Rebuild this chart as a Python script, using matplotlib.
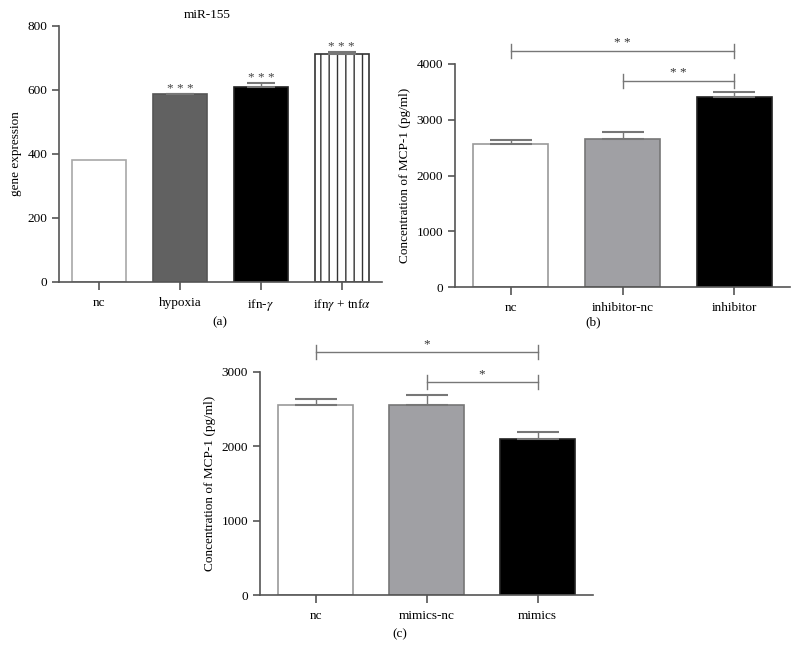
import matplotlib
matplotlib.use('Agg')
import matplotlib.pyplot as plt

plt.rcParams['font.family'] = ['Liberation Serif', 'DejaVu Serif']
plt.rcParams['mathtext.fontset'] = 'stix'
plt.rcParams['hatch.linewidth'] = 1.0

# panel (a): miR-155
cats_a = ['nc', 'hypoxia', 'ifn-$\\gamma$', 'ifn$\\gamma$ + tnf$\\alpha$']
vals_a = [382, 587, 609, 713]
err_a = [0, 2, 14, 7]
stars_a = ['', '* * *', '* * *', '* * *']

# panel (b): inhibitor
cats_b = ['nc', 'inhibitor-nc', 'inhibitor']
vals_b = [2560, 2655, 3400]
err_b = [80, 120, 95]

# panel (c): mimics
cats_c = ['nc', 'mimics-nc', 'mimics']
vals_c = [2552, 2557, 2105]
err_c = [80, 130, 82]

W, H = 798, 661
fig = plt.figure(figsize=(W / 100, H / 100), dpi=100)

axis_col = '#555555'
fs = 9.5


def px_axes(l, t, r, b):
    return fig.add_axes([l / W, 1 - b / H, (r - l) / W, (b - t) / H])


def style(ax, cats, ylim, yticks, ylabel):
    for s in ['top', 'right']:
        ax.spines[s].set_visible(False)
    for s in ['left', 'bottom']:
        ax.spines[s].set_color(axis_col)
        ax.spines[s].set_linewidth(1.2)
    ax.set_xlim(-0.5, len(cats) - 0.5)
    ax.set_ylim(*ylim)
    ax.set_yticks(yticks)
    ax.set_xticks(range(len(cats)))
    ax.set_xticklabels(cats)
    ax.tick_params(colors=axis_col, labelcolor='black', labelsize=fs,
                   length=5, width=1.2)
    ax.tick_params(axis='x', length=6, pad=5)
    ax.set_ylabel(ylabel, fontsize=fs)


def bracket(ax, x1, x2, y, dy, label):
    ax.plot([x1, x2], [y, y], color='#777777', lw=1, clip_on=False)
    for x in (x1, x2):
        ax.plot([x, x], [y - dy, y + dy], color='#777777', lw=1, clip_on=False)
    ax.text((x1 + x2) / 2, y + dy * 0.2, label, ha='center', va='bottom',
            fontsize=fs, color='#333333', clip_on=False)


# ---- (a)
ax = px_axes(59, 26, 382, 282)
xs = range(len(cats_a))
fills = ['white', '#616161', 'black', 'white']
edges = ['#a8a8a8', '#555555', '#222222', '#333333']
hatches = [None, None, None, '||']
for i in xs:
    ax.bar(i, vals_a[i], width=0.67, color=fills[i], edgecolor=edges[i],
           hatch=hatches[i], linewidth=1.2, zorder=2)
    if err_a[i]:
        ax.errorbar(i, vals_a[i], yerr=[[0], [err_a[i]]], fmt='none',
                    ecolor='#777777', elinewidth=1, capsize=10, capthick=1.5)
    if stars_a[i]:
        ax.text(i, vals_a[i] + err_a[i] - 5, stars_a[i], ha='center',
                va='bottom', fontsize=fs, color='#444444')
style(ax, cats_a, (0, 800), [0, 200, 400, 600, 800], 'gene expression')
ax.set_title('miR-155', fontsize=fs, pad=6, x=0.46)
fig.text(220 / W, 1 - 322 / H, '(a)', ha='center', va='center', fontsize=fs)

# ---- (b)
ax = px_axes(455, 64, 790, 287)
fills = ['white', '#a0a0a4', 'black']
edges = ['#999999', '#777777', '#222222']
for i in range(len(cats_b)):
    ax.bar(i, vals_b[i], width=0.67, color=fills[i], edgecolor=edges[i],
           linewidth=1.2, zorder=2)
    ax.errorbar(i, vals_b[i], yerr=[[0], [err_b[i]]], fmt='none',
                ecolor='#777777', elinewidth=1, capsize=15, capthick=1.5)
style(ax, cats_b, (0, 4000), [0, 1000, 2000, 3000, 4000],
      'Concentration of MCP-1 (pg/ml)')
bracket(ax, 0, 2, 4240, 125, '* *')
bracket(ax, 1, 2, 3700, 125, '* *')
fig.text(593 / W, 1 - 322 / H, '(b)', ha='center', va='center', fontsize=fs)

# ---- (c)
ax = px_axes(260, 372, 593, 595)
fills = ['white', '#a0a0a4', 'black']
edges = ['#999999', '#777777', '#222222']
for i in range(len(cats_c)):
    ax.bar(i, vals_c[i], width=0.67, color=fills[i], edgecolor=edges[i],
           linewidth=1.2, zorder=2)
    ax.errorbar(i, vals_c[i], yerr=[[0], [err_c[i]]], fmt='none',
                ecolor='#777777', elinewidth=1, capsize=15, capthick=1.5)
style(ax, cats_c, (0, 3000), [0, 1000, 2000, 3000],
      'Concentration of MCP-1 (pg/ml)')
bracket(ax, 0, 2, 3268, 90, '*')
bracket(ax, 1, 2, 2866, 90, '*')
fig.text(400 / W, 1 - 634 / H, '(c)', ha='center', va='center', fontsize=fs)

fig.savefig('out.png', dpi=100, facecolor='white')
